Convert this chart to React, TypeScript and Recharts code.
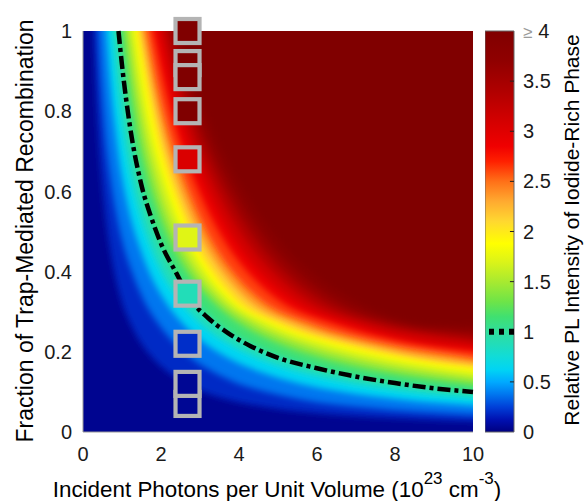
import React from 'react';
import { ComposedChart, Area, Line, Scatter, XAxis, YAxis, ReferenceArea, ReferenceLine } from 'recharts';

const FONT = '"Liberation Sans", Arial, Helvetica, sans-serif';

// ---------- data ----------
// Rows (fraction of trap-mediated recombination) at which each iso-intensity contour was read.
const contourRowsF = [1.0, 0.87, 0.75, 0.64, 0.55, 0.47, 0.4, 0.33, 0.27, 0.22, 0.18, 0.15, 0.12, 0.1, 0.08, 0.06, 0.045, 0.035, 0.03];
// Relative PL intensity levels of the contours
const levels = [0.125, 0.25, 0.5, 0.75, 1.0, 1.25, 1.5, 1.75, 2.0, 2.25, 2.5, 2.75, 3.0, 3.25, 3.5, 3.75, 4.0];
// Incident photons (x) where each level crosses each row (only rows inside the plot)
const levelX: number[][] = [
  [0.28, 0.33, 0.39, 0.47, 0.56, 0.67, 0.80, 0.98, 1.22, 1.50, 1.83, 2.17, 2.67, 3.10, 3.75, 4.83, 6.22, 7.86, 9.00],
  [0.40, 0.47, 0.56, 0.69, 0.84, 1.02, 1.25, 1.55, 1.93, 2.36, 2.83, 3.33, 4.00, 4.70, 5.63, 7.33, 9.56],
  [0.60, 0.70, 0.83, 0.99, 1.18, 1.42, 1.69, 2.08, 2.56, 3.14, 3.81, 4.53, 5.58, 6.65, 8.25],
  [0.76, 0.88, 1.03, 1.22, 1.44, 1.70, 2.01, 2.46, 3.02, 3.73, 4.58, 5.53, 6.96, 8.40],
  [0.91, 1.05, 1.22, 1.43, 1.67, 1.96, 2.31, 2.82, 3.46, 4.29, 5.30, 6.43, 8.18],
  [1.04, 1.20, 1.39, 1.64, 1.92, 2.25, 2.66, 3.26, 4.02, 5.01, 6.23, 7.62, 9.81],
  [1.16, 1.34, 1.55, 1.82, 2.11, 2.46, 2.88, 3.49, 4.36, 5.54, 6.99, 8.64],
  [1.30, 1.50, 1.73, 2.03, 2.34, 2.70, 3.12, 3.74, 4.75, 6.16, 7.88, 9.85],
  [1.42, 1.64, 1.89, 2.20, 2.53, 2.88, 3.31, 3.92, 5.04, 6.67, 8.62],
  [1.53, 1.77, 2.04, 2.37, 2.72, 3.11, 3.57, 4.23, 5.44, 7.19, 9.30],
  [1.64, 1.89, 2.18, 2.55, 2.92, 3.33, 3.82, 4.54, 5.84, 7.72],
  [1.80, 2.08, 2.40, 2.80, 3.21, 3.67, 4.21, 5.00, 6.44, 8.53],
  [1.95, 2.25, 2.59, 3.02, 3.46, 3.95, 4.53, 5.38, 6.90, 9.11],
  [2.10, 2.42, 2.79, 3.25, 3.72, 4.25, 4.87, 5.76, 7.39],
  [2.24, 2.58, 2.98, 3.47, 3.97, 4.53, 5.18, 6.14, 7.86],
  [2.38, 2.74, 3.16, 3.68, 4.22, 4.81, 5.51, 6.52, 8.36],
  [2.52, 2.91, 3.35, 3.91, 4.48, 5.11, 5.86, 6.95, 8.93],
];
// Fraction where each level meets the right edge (x = 10)
const levelRightF = [0.027, 0.043, 0.066, 0.085, 0.1, 0.118, 0.132, 0.148, 0.161, 0.172, 0.183, 0.2, 0.212, 0.225, 0.238, 0.252, 0.268];

// Dash-dot contour of relative intensity = 1
const dashX = [0.91, 1.0, 1.2, 1.5, 1.75, 2.0, 2.4, 2.8, 3.2, 3.7, 4.3, 5.0, 6.0, 6.8, 8.0, 9.0, 10.0];
const dashF = [1.0, 0.915, 0.765, 0.615, 0.535, 0.47, 0.395, 0.325, 0.285, 0.248, 0.214, 0.185, 0.159, 0.142, 0.122, 0.109, 0.1];

// Measured samples (squares)
const squareX = [2.68, 2.68, 2.68, 2.68, 2.68, 2.68, 2.68, 2.68, 2.68, 2.68];
const squareF = [1.0, 0.92, 0.885, 0.8, 0.68, 0.485, 0.345, 0.22, 0.07, 0.12];
const squareV = [4.0, 4.0, 4.0, 4.0, 3.05, 1.72, 0.88, 0.2, 0.05, 0.05];

// Axis ticks
const xTicks = [0, 2, 4, 6, 8, 10];
const yTicks = [0, 0.2, 0.4, 0.6, 0.8, 1];
const cbTicks = [0, 0.5, 1, 1.5, 2, 2.5, 3, 3.5, 4];
const cbInnerTicks = [0.5, 1, 1.5, 2, 2.5, 3, 3.5];
const cbRange = [0, 4];

// ---------- colour map (style) ----------
const CMAP: [number, number[]][] = [
  [0.0, [0, 0, 128]],
  [0.12, [0, 16, 176]],
  [0.25, [0, 64, 216]],
  [0.38, [0, 120, 240]],
  [0.5, [0, 170, 255]],
  [0.62, [0, 212, 244]],
  [0.75, [16, 220, 216]],
  [0.88, [34, 221, 184]],
  [1.0, [48, 222, 156]],
  [1.15, [64, 224, 112]],
  [1.3, [110, 228, 72]],
  [1.5, [168, 234, 48]],
  [1.7, [220, 244, 24]],
  [1.88, [255, 255, 0]],
  [2.1, [255, 216, 48]],
  [2.3, [255, 170, 48]],
  [2.5, [255, 112, 24]],
  [2.7, [255, 32, 0]],
  [2.85, [240, 0, 0]],
  [3.1, [212, 0, 0]],
  [3.4, [176, 0, 0]],
  [3.7, [144, 0, 0]],
  [4.0, [128, 0, 0]],
];

function rgb(c: number[]): string {
  return `rgb(${Math.round(c[0])},${Math.round(c[1])},${Math.round(c[2])})`;
}

function colorAt(v: number): string {
  const t = Math.max(0, Math.min(4, v));
  for (let i = 1; i < CMAP.length; i++) {
    const [v1, c1] = CMAP[i];
    if (t <= v1) {
      const [v0, c0] = CMAP[i - 1];
      const k = (t - v0) / (v1 - v0);
      return rgb([0, 1, 2].map((j) => c0[j] + (c1[j] - c0[j]) * k));
    }
  }
  return rgb(CMAP[CMAP.length - 1][1]);
}

// ---------- chart tables built from the arrays ----------
const TOP = 1.1; // areas reach above the plot so the soft edges stay outside the clip
const heatData: Record<string, unknown>[] = [];
heatData.push({ x: -0.5, base: [-0.1, TOP] }, { x: 10.5, base: [-0.1, TOP] });
levels.forEach((_, i) => {
  const key = `lv${i}`;
  const pts = levelX[i].map((x, j) => ({ x, f: contourRowsF[j] }));
  pts.push({ x: 10, f: levelRightF[i] });
  const p0 = pts[0];
  const p1 = pts[1];
  const head = { x: p0.x + (TOP - p0.f) * ((p1.x - p0.x) / (p1.f - p0.f)), f: TOP };
  const pe = pts[pts.length - 1];
  const pp = pts[pts.length - 2];
  const tail = { x: 10.6, f: pe.f + 0.6 * ((pe.f - pp.f) / (pe.x - pp.x)) };
  [head, ...pts, tail].forEach((p) => heatData.push({ x: p.x, [key]: [p.f, TOP] }));
});
const bandColor = (i: number) =>
  i === levels.length - 1 ? colorAt(4) : colorAt((levels[i] + levels[i + 1]) / 2);

const dashData = dashX.map((x, i) => ({ x, dash: dashF[i] }));
const squareData = squareF.map((f, i) => ({ x: squareX[i], f, v: squareV[i] }));
const cbData = [
  { x: 0, bar: cbRange },
  { x: 1, bar: cbRange },
];

const tickStyle = { fontSize: 20, fill: '#1a1a1a', fontFamily: FONT };

const renderSquare = (p: any) => (
  <rect
    x={p.cx - 12}
    y={p.cy - 12}
    width={24}
    height={24}
    fill={colorAt(p.payload.v)}
    stroke="#b4b4b4"
    strokeWidth={4.2}
  />
);

const renderXTitle = () => (
  <text x={277} y={496.7} textAnchor="middle" fontSize={22.4} fill="#000" fontFamily={FONT}>
    Incident Photons per Unit Volume (10
    <tspan dy={-13} fontSize={17}>23</tspan>
    <tspan dy={13}> cm</tspan>
    <tspan dy={-13} fontSize={17}>-3</tspan>
    <tspan dy={13}>)</tspan>
  </text>
);

const renderYTitle = () => (
  <text transform="translate(33.3,231) rotate(-90)" textAnchor="middle" fontSize={23} fill="#000" fontFamily={FONT}>
    Fraction of Trap-Mediated Recombination
  </text>
);

const renderCbTitle = () => (
  <text transform="translate(94.3,230) rotate(-90)" textAnchor="middle" fontSize={21} fill="#000" fontFamily={FONT}>
    Relative PL Intensity of Iodide-Rich Phase
  </text>
);

const renderCbTick = (p: any) => {
  const v = p.payload.value;
  if (v === 4) {
    return (
      <text x={p.x} y={p.y} dy={7} fontSize={20} fontFamily={FONT} textAnchor="start">
        <tspan fill="#9a9a9a" fontSize={17}>≥</tspan>
        <tspan fill="#1a1a1a" dx={6}>4</tspan>
      </text>
    );
  }
  return (
    <text x={p.x} y={p.y} dy={7} fontSize={20} fill="#1a1a1a" fontFamily={FONT} textAnchor="start">
      {String(v)}
    </text>
  );
};

export default function App() {
  return (
    <div style={{ position: 'absolute', left: 0, top: 0, width: 584, height: 501, background: '#fff', fontFamily: FONT }}>
      <style>{`.heat .recharts-area-area{filter:url(#heatBlur);}`}</style>
      <svg width={0} height={0} style={{ position: 'absolute' }}>
        <defs>
          <filter id="heatBlur" x="-10%" y="-10%" width="120%" height="120%">
            <feGaussianBlur stdDeviation={3.2} />
          </filter>
          <linearGradient id="cbGrad" x1="0" y1="1" x2="0" y2="0">
            {CMAP.map(([v, c]) => (
              <stop key={v} offset={v / 4} stopColor={rgb(c)} />
            ))}
          </linearGradient>
        </defs>
      </svg>

      <div style={{ position: 'absolute', left: 0, top: 0 }}>
        <ComposedChart width={584} height={501} data={heatData} margin={{ top: 31, right: 111, bottom: 0, left: 0 }}>
          <XAxis
            type="number"
            dataKey="x"
            domain={[0, 10]}
            ticks={xTicks}
            interval={0}
            allowDataOverflow
            height={69}
            tickSize={0}
            tickMargin={15}
            tickLine={false}
            axisLine={{ stroke: '#999' }}
            tick={tickStyle}
            label={renderXTitle}
          />
          <YAxis
            type="number"
            domain={[0, 1]}
            ticks={yTicks}
            interval={0}
            allowDataOverflow
            width={83}
            tickSize={0}
            tickMargin={11}
            tickLine={false}
            axisLine={{ stroke: '#999' }}
            tick={tickStyle}
            label={renderYTitle}
          />
          <XAxis xAxisId="s" type="number" dataKey="x" domain={[0, 10]} hide />
          <YAxis yAxisId="s" type="number" domain={[0, 1]} hide />
          <XAxis xAxisId="top" orientation="top" type="number" dataKey="x" domain={[0, 10]} allowDataOverflow height={0} tick={false} tickLine={false} axisLine={{ stroke: '#999' }} />
          <YAxis yAxisId="right" orientation="right" type="number" domain={[0, 1]} allowDataOverflow width={0} tick={false} tickLine={false} axisLine={{ stroke: '#999' }} />

          <Area
            dataKey="base"
            type="linear"
            stroke="none"
            fill={colorAt(0.04)}
            fillOpacity={1}
            connectNulls
            dot={false}
            activeDot={false}
            isAnimationActive={false}
          />
          {levels.map((L, i) => (
            <Area
              key={`lv${i}`}
              dataKey={`lv${i}`}
              type="monotone"
              className="heat"
              stroke="none"
              fill={bandColor(i)}
              fillOpacity={1}
              connectNulls
              dot={false}
              activeDot={false}
              isAnimationActive={false}
            />
          ))}
          <Line
            xAxisId="s"
            yAxisId="s"
            data={dashData}
            dataKey="dash"
            type="monotone"
            stroke="#000"
            strokeWidth={4.5}
            strokeDasharray="13 4 4 4"
            dot={false}
            activeDot={false}
            isAnimationActive={false}
          />
          <Scatter xAxisId="s" yAxisId="s" data={squareData} dataKey="f" shape={renderSquare} isAnimationActive={false} />
        </ComposedChart>
      </div>

      <div style={{ position: 'absolute', left: 485, top: 0 }}>
        <ComposedChart width={99} height={501} data={cbData} margin={{ top: 31, right: 0, bottom: 69, left: 0 }}>
          <XAxis type="number" dataKey="x" domain={[0, 1]} allowDataOverflow hide />
          <YAxis
            orientation="right"
            type="number"
            domain={[0, 4]}
            allowDataOverflow
            ticks={cbTicks}
            interval={0}
            width={70}
            tickSize={0}
            tickMargin={9}
            tickLine={false}
            axisLine={false}
            tick={renderCbTick}
            label={renderCbTitle}
          />
          <Area
            dataKey="bar"
            type="linear"
            stroke="none"
            fill="url(#cbGrad)"
            fillOpacity={1}
            dot={false}
            activeDot={false}
            isAnimationActive={false}
          />
          <ReferenceArea x1={0} x2={1} y1={0} y2={4} fill="none" stroke="#666" strokeWidth={1} />
          {cbInnerTicks.map((v) => (
            <ReferenceLine key={v} segment={[{ x: 0.86, y: v }, { x: 1, y: v }]} stroke="#222" strokeWidth={1} />
          ))}
          <ReferenceLine y={1} stroke="#000" strokeWidth={6} strokeDasharray="5 5" />
        </ComposedChart>
      </div>
    </div>
  );
}
